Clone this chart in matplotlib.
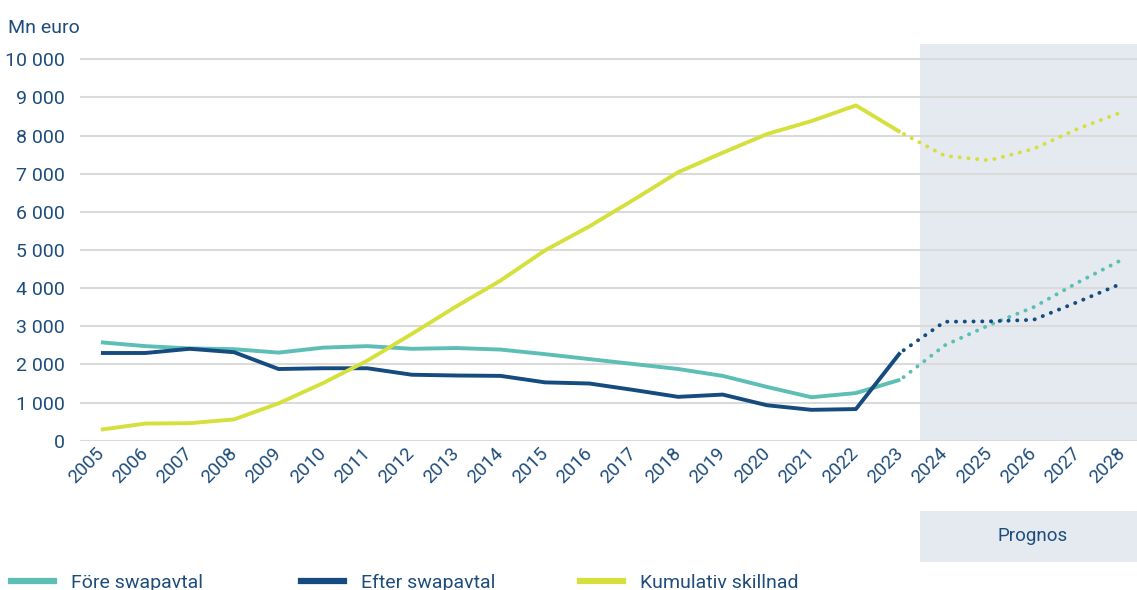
import matplotlib
matplotlib.use('Agg')

import matplotlib.pyplot as plt
import matplotlib.transforms as mtransforms
from matplotlib.lines import Line2D
from matplotlib.patches import Rectangle

# Annual values, Mn euro
years = list(range(2005, 2024))
fore_swap = [2580, 2480, 2420, 2400, 2310, 2440, 2480, 2410, 2430, 2390,
             2270, 2140, 2010, 1880, 1700, 1410, 1140, 1250, 1600]
efter_swap = [2300, 2300, 2410, 2320, 1880, 1900, 1900, 1730, 1710, 1700,
              1530, 1500, 1330, 1150, 1210, 930, 810, 830, 2310]
kumulativ = [290, 450, 460, 560, 980, 1510, 2100, 2800, 3520, 4200,
             4990, 5620, 6320, 7040, 7550, 8040, 8380, 8790, 8090]

# Forecast period (starts from the last actual year)
prog_years = [2023, 2024, 2025, 2026, 2027, 2028]
fore_prog = [1600, 2500, 3030, 3500, 4150, 4750]
efter_prog = [2310, 3120, 3130, 3170, 3640, 4130]
kum_prog = [8090, 7470, 7350, 7650, 8180, 8620]

series_names = ['Före swapavtal', 'Efter swapavtal', 'Kumulativ skillnad']
yticks = list(range(0, 10001, 1000))
prognos_start = 2023.45

c_fore = '#5CBEB5'
c_efter = '#154B7F'
c_kum = '#D5E03C'
c_text = '#1E4D7C'
c_grid = '#DADADA'
c_shade = '#E5EAF0'

plt.rcParams['font.family'] = ['Roboto', 'DejaVu Sans']
plt.rcParams['font.size'] = 13.5

fig = plt.figure(figsize=(11.37, 5.90), dpi=100)
ax = fig.add_axes([0.0704, 0.253, 0.9296, 0.6724])

ax.set_xlim(2004.53, 2028.33)
ax.set_ylim(0, 10400)

# Shaded forecast area
ax.axvspan(prognos_start, 2028.33, color=c_shade, lw=0, zorder=0)

for y in yticks:
    ax.axhline(y, color=c_grid, lw=1.5, zorder=1)

lw = 2.8
ax.plot(years, fore_swap, color=c_fore, lw=lw, solid_capstyle='butt', zorder=3)
ax.plot(years, efter_swap, color=c_efter, lw=lw, solid_capstyle='butt', zorder=3)
ax.plot(years, kumulativ, color=c_kum, lw=lw, solid_capstyle='butt', zorder=3)

dot = (1.2, (0.05, 2.2))
for vals, col in [(fore_prog, c_fore), (efter_prog, c_efter), (kum_prog, c_kum)]:
    ax.plot(prog_years, vals, color=col, lw=lw, linestyle=dot,
            dash_capstyle='round', zorder=3)

for s in ax.spines.values():
    s.set_visible(False)

ax.set_yticks(yticks)
ax.set_yticklabels([f'{v:,}'.replace(',', ' ') for v in yticks], color=c_text,
                   fontsize=14)
ax.tick_params(axis='y', length=0, pad=11)

all_years = years + prog_years[1:]
ax.set_xticks(all_years)
offset = mtransforms.ScaledTranslation(7 / 100, 0, fig.dpi_scale_trans)
ax.set_xticklabels([str(y) for y in all_years], rotation=45, ha='right',
                   va='center', rotation_mode='anchor', color=c_text)
for lab in ax.get_xticklabels():
    lab.set_transform(lab.get_transform() + offset)
ax.tick_params(axis='x', length=0, pad=7)

fig.text(8 / 1137, 1 - 28 / 590, 'Mn euro', color=c_text, ha='left', va='center',
         fontsize=14)

# "Prognos" box below the forecast period
tr = mtransforms.blended_transform_factory(ax.transData, fig.transFigure)
fig.patches.append(Rectangle((prognos_start, 0.0475), 2028.33 - prognos_start, 0.0866,
                             transform=tr, color=c_shade, lw=0, zorder=0))
fig.text(1033 / 1137, 1 - 536 / 590, 'Prognos', color=c_text, ha='center', va='center')

# One legend entry per series, laid out along the bottom edge
legend_x = [11, 301, 580]
for name, col, xpx in zip(series_names, (c_fore, c_efter, c_kum), legend_x):
    leg = fig.legend([Line2D([0], [0], color=col, lw=4.5)], [name],
                     loc='center left', bbox_to_anchor=(xpx / 1137, 1 - 583 / 590),
                     frameon=False, handlelength=2.2, handletextpad=0.9,
                     borderpad=0, borderaxespad=0, prop={'size': 14})
    leg.get_texts()[0].set_color(c_text)

fig.savefig('out.png', dpi=100)
